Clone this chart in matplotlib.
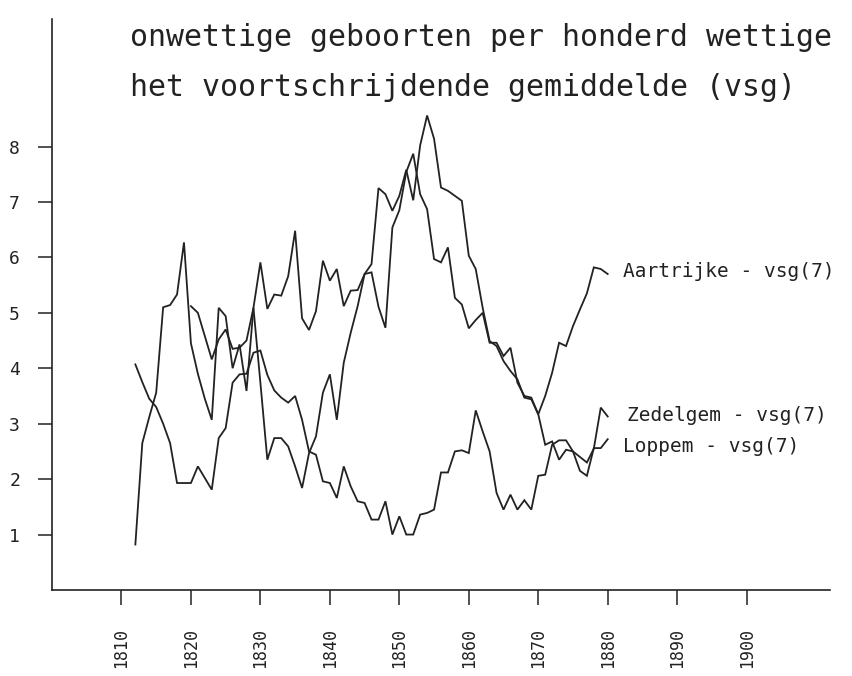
import numpy as np
import matplotlib
matplotlib.use("Agg")
import matplotlib.pyplot as plt

# ── data (7-year moving averages) ──
years_full = list(range(1812, 1881))
years_late = list(range(1820, 1881))

zedelgem = [0.82, 2.65, 3.12, 3.56, 5.10, 5.14, 5.33, 6.27, 4.45, 3.90,
            3.45, 3.07, 5.09, 4.94, 4.00, 4.43, 3.59, 5.09, 5.91, 5.07,
            5.33, 5.31, 5.66, 6.48, 4.90, 4.69, 5.03, 5.94, 5.58, 5.79,
            5.12, 5.40, 5.41, 5.70, 5.88, 7.25, 7.14, 6.84, 7.11, 7.58,
            7.03, 8.02, 8.56, 8.14, 7.26, 7.20, 7.11, 7.02, 6.03, 5.79,
            5.09, 4.49, 4.40, 4.13, 3.95, 3.80, 3.47, 3.44, 3.17, 2.62,
            2.68, 2.35, 2.53, 2.50, 2.40, 2.30, 2.55, 3.29, 3.13]

loppem = [4.07, 3.75, 3.45, 3.30, 3.00, 2.65, 1.93, 1.93, 1.93, 2.23,
          2.02, 1.81, 2.74, 2.92, 3.74, 3.89, 3.90, 4.28, 4.32, 3.88,
          3.60, 3.47, 3.38, 3.50, 3.07, 2.50, 2.44, 1.96, 1.93, 1.66,
          2.23, 1.87, 1.60, 1.57, 1.27, 1.27, 1.60, 1.00, 1.33, 1.00,
          1.00, 1.36, 1.39, 1.45, 2.12, 2.12, 2.50, 2.52, 2.47, 3.24,
          2.86, 2.50, 1.75, 1.45, 1.72, 1.45, 1.62, 1.45, 2.06, 2.08,
          2.62, 2.70, 2.70, 2.50, 2.15, 2.06, 2.56, 2.56, 2.72]

aartrijke = [5.12, 5.00, 4.58, 4.16, 4.52, 4.70, 4.35, 4.37, 4.50, 5.09,
             3.74, 2.35, 2.74, 2.74, 2.59, 2.23, 1.84, 2.47, 2.77, 3.56,
             3.89, 3.07, 4.10, 4.64, 5.12, 5.70, 5.73, 5.11, 4.73, 6.54,
             6.85, 7.54, 7.87, 7.14, 6.87, 5.97, 5.91, 6.18, 5.27, 5.15,
             4.72, 4.87, 5.00, 4.46, 4.46, 4.22, 4.37, 3.74, 3.50, 3.47,
             3.17, 3.50, 3.92, 4.46, 4.40, 4.76, 5.06, 5.35, 5.82, 5.79,
             5.70]

series_labels = ["Aartrijke - vsg(7)", "Zedelgem - vsg(7)", "Loppem - vsg(7)"]
x_ticks = list(range(1810, 1901, 10))
y_ticks = [1, 2, 3, 4, 5, 6, 7, 8]
title_lines = ["onwettige geboorten per honderd wettige",
               "het voortschrijdende gemiddelde (vsg)"]

# ── figure ───────────────────────────────────────────────
plt.rcParams["font.family"] = ["DejaVu Sans Mono", "DejaVu Sans"]
ink = "#222222"

fig = plt.figure(figsize=(8.52, 6.76), dpi=100)
ax = fig.add_axes([52 / 852, 1 - 590 / 676, (830 - 52) / 852, (590 - 19) / 676])

line_kw = dict(color=ink, lw=1.3, solid_joinstyle="miter")
ax.plot(years_late, aartrijke, **line_kw)
ax.plot(years_full, zedelgem, **line_kw)
ax.plot(years_full, loppem, **line_kw)

ax.set_xlim(1800, 1912)
ax.set_ylim(0, 10.3)
ax.set_xticks(x_ticks)
ax.set_xticklabels([str(y) for y in x_ticks], rotation=90, fontsize=12, color=ink)
ax.set_yticks(y_ticks)
ax.set_yticklabels([str(v) for v in y_ticks], fontsize=13, color=ink)
ax.tick_params(axis="x", length=11, width=1.1, pad=16, color=ink)
ax.tick_params(axis="y", length=10, width=1.1, pad=13, color=ink)
for side in ("top", "right"):
    ax.spines[side].set_visible(False)
for side in ("left", "bottom"):
    ax.spines[side].set_linewidth(1.2)
    ax.spines[side].set_color(ink)

# labels at the end of each line
ends = [(years_late[-1], aartrijke[-1], (11, 2)),
        (years_full[-1], zedelgem[-1], (14, 1)),
        (years_full[-1], loppem[-1], (11, -5))]
for (x, y, off), lab in zip(ends, series_labels):
    ax.annotate(lab, (x, y), xytext=off, textcoords="offset points",
                fontsize=14, va="center", ha="left", color=ink)

fig.text(130 / 852, 1 - 38 / 676, title_lines[0], fontsize=21.5,
         va="center", ha="left", color=ink)
fig.text(130 / 852, 1 - 88 / 676, title_lines[1], fontsize=21.5,
         va="center", ha="left", color=ink)

fig.savefig("out.png", dpi=100)
